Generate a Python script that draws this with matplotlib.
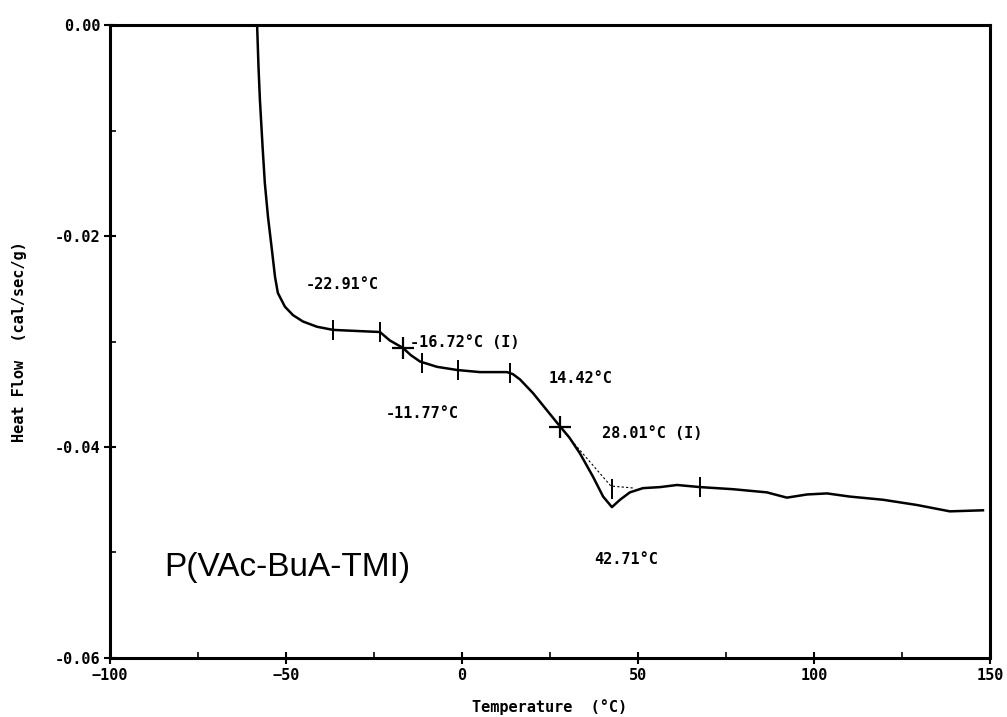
import matplotlib
matplotlib.use('Agg')
import matplotlib.pyplot as plt
from matplotlib.ticker import MultipleLocator, FormatStrFormatter

# DSC trace (temperature in °C, heat flow in cal/sec/g)
temp = [-58.2, -57.8, -57.4, -56.6, -56.0, -55.1, -54.0, -53.1, -52.3, -50.3,
        -48.0, -45.2, -41.2, -36.6, -30.0, -23.3, -20.5, -16.8, -14.5, -11.9,
        -7.1, -1.4, 5.1, 12.8, 14.5, 16.5, 20.2, 27.0, 30.5, 33.5,
        37.2, 40.1, 42.6, 44.9, 47.7, 51.4, 56.3, 61.1, 67.6, 77.0,
        86.6, 92.3, 98.0, 103.7, 110.2, 119.6, 129.3, 138.6, 148.0]
heat = [0.0, -0.0040, -0.0071, -0.0118, -0.0150, -0.0182, -0.0213, -0.0239, -0.0254, -0.0267,
        -0.0275, -0.0281, -0.0286, -0.0289, -0.0290, -0.0291, -0.0299, -0.0306, -0.0313, -0.0319,
        -0.0324, -0.0327, -0.0329, -0.0329, -0.0331, -0.0336, -0.0349, -0.0377, -0.0391, -0.0406,
        -0.0428, -0.0447, -0.0457, -0.0450, -0.0443, -0.0439, -0.0438, -0.0436, -0.0438, -0.0440,
        -0.0443, -0.0448, -0.0445, -0.0444, -0.0447, -0.0450, -0.0455, -0.0461, -0.0460]

# dotted extrapolated baseline under the 42.71 °C dip
base_t = [27.8, 42.3, 49.1]
base_h = [-0.0381, -0.0437, -0.0439]

# analysis marks on the curve
tick_t = [-36.6, -23.3, -11.4, -1.1, 13.6, 42.6, 67.6]
tick_h = [-0.0289, -0.0291, -0.0320, -0.0327, -0.0330, -0.0440, -0.0438]
cross_t = [-16.8, 27.8]
cross_h = [-0.0306, -0.0381]

labels = ['-22.91°C', '-16.72°C (I)', '14.42°C', '-11.77°C', '28.01°C (I)', '42.71°C']
label_t = [-44.3, -14.8, 24.7, -21.6, 39.8, 37.5]
label_h = [-0.0246, -0.0301, -0.0335, -0.0368, -0.0387, -0.0507]

mono = {'family': 'DejaVu Sans Mono', 'weight': 'bold'}

fig = plt.figure(figsize=(10.07, 7.17), dpi=100)
ax = fig.add_axes([0.1092, 0.0823, 0.8739, 0.8828])

ax.plot(temp, heat, color='black', lw=1.8, solid_joinstyle='round')
ax.plot(base_t, base_h, color='black', lw=0.8, ls=(0, (2, 2)))
ax.plot(tick_t, tick_h, ls='none', marker='|', ms=14, mew=1.4, color='black')
ax.plot(cross_t, cross_h, ls='none', marker='+', ms=16, mew=1.6, color='black')

for s, t, h in zip(labels, label_t, label_h):
    ax.text(t, h, s, fontsize=11, ha='left', va='center', **mono)

ax.text(-84.5, -0.0514, 'P(VAc-BuA-TMI)', fontsize=24, family='Liberation Sans',
        ha='left', va='center')

ax.set_xlim(-100, 150)
ax.set_ylim(-0.06, 0.0)
ax.xaxis.set_major_locator(MultipleLocator(50))
ax.xaxis.set_minor_locator(MultipleLocator(25))
ax.yaxis.set_major_locator(MultipleLocator(0.02))
ax.yaxis.set_minor_locator(MultipleLocator(0.01))
ax.yaxis.set_major_formatter(FormatStrFormatter('%.2f'))
ax.tick_params(which='major', direction='inout', length=8, width=1.5, pad=3)
ax.tick_params(which='minor', direction='in', length=4, width=1.2)
ax.tick_params(right=False, top=False)
for lab in ax.get_xticklabels() + ax.get_yticklabels():
    lab.set_fontsize(11)
    lab.set_fontfamily('DejaVu Sans Mono')
    lab.set_fontweight('bold')
for sp in ax.spines.values():
    sp.set_linewidth(2.2)

ax.set_xlabel('Temperature  (°C)', fontsize=11, labelpad=12, **mono)
ax.set_ylabel('Heat Flow  (cal/sec/g)', fontsize=11, labelpad=20, **mono)

fig.savefig('out.png', dpi=100)
